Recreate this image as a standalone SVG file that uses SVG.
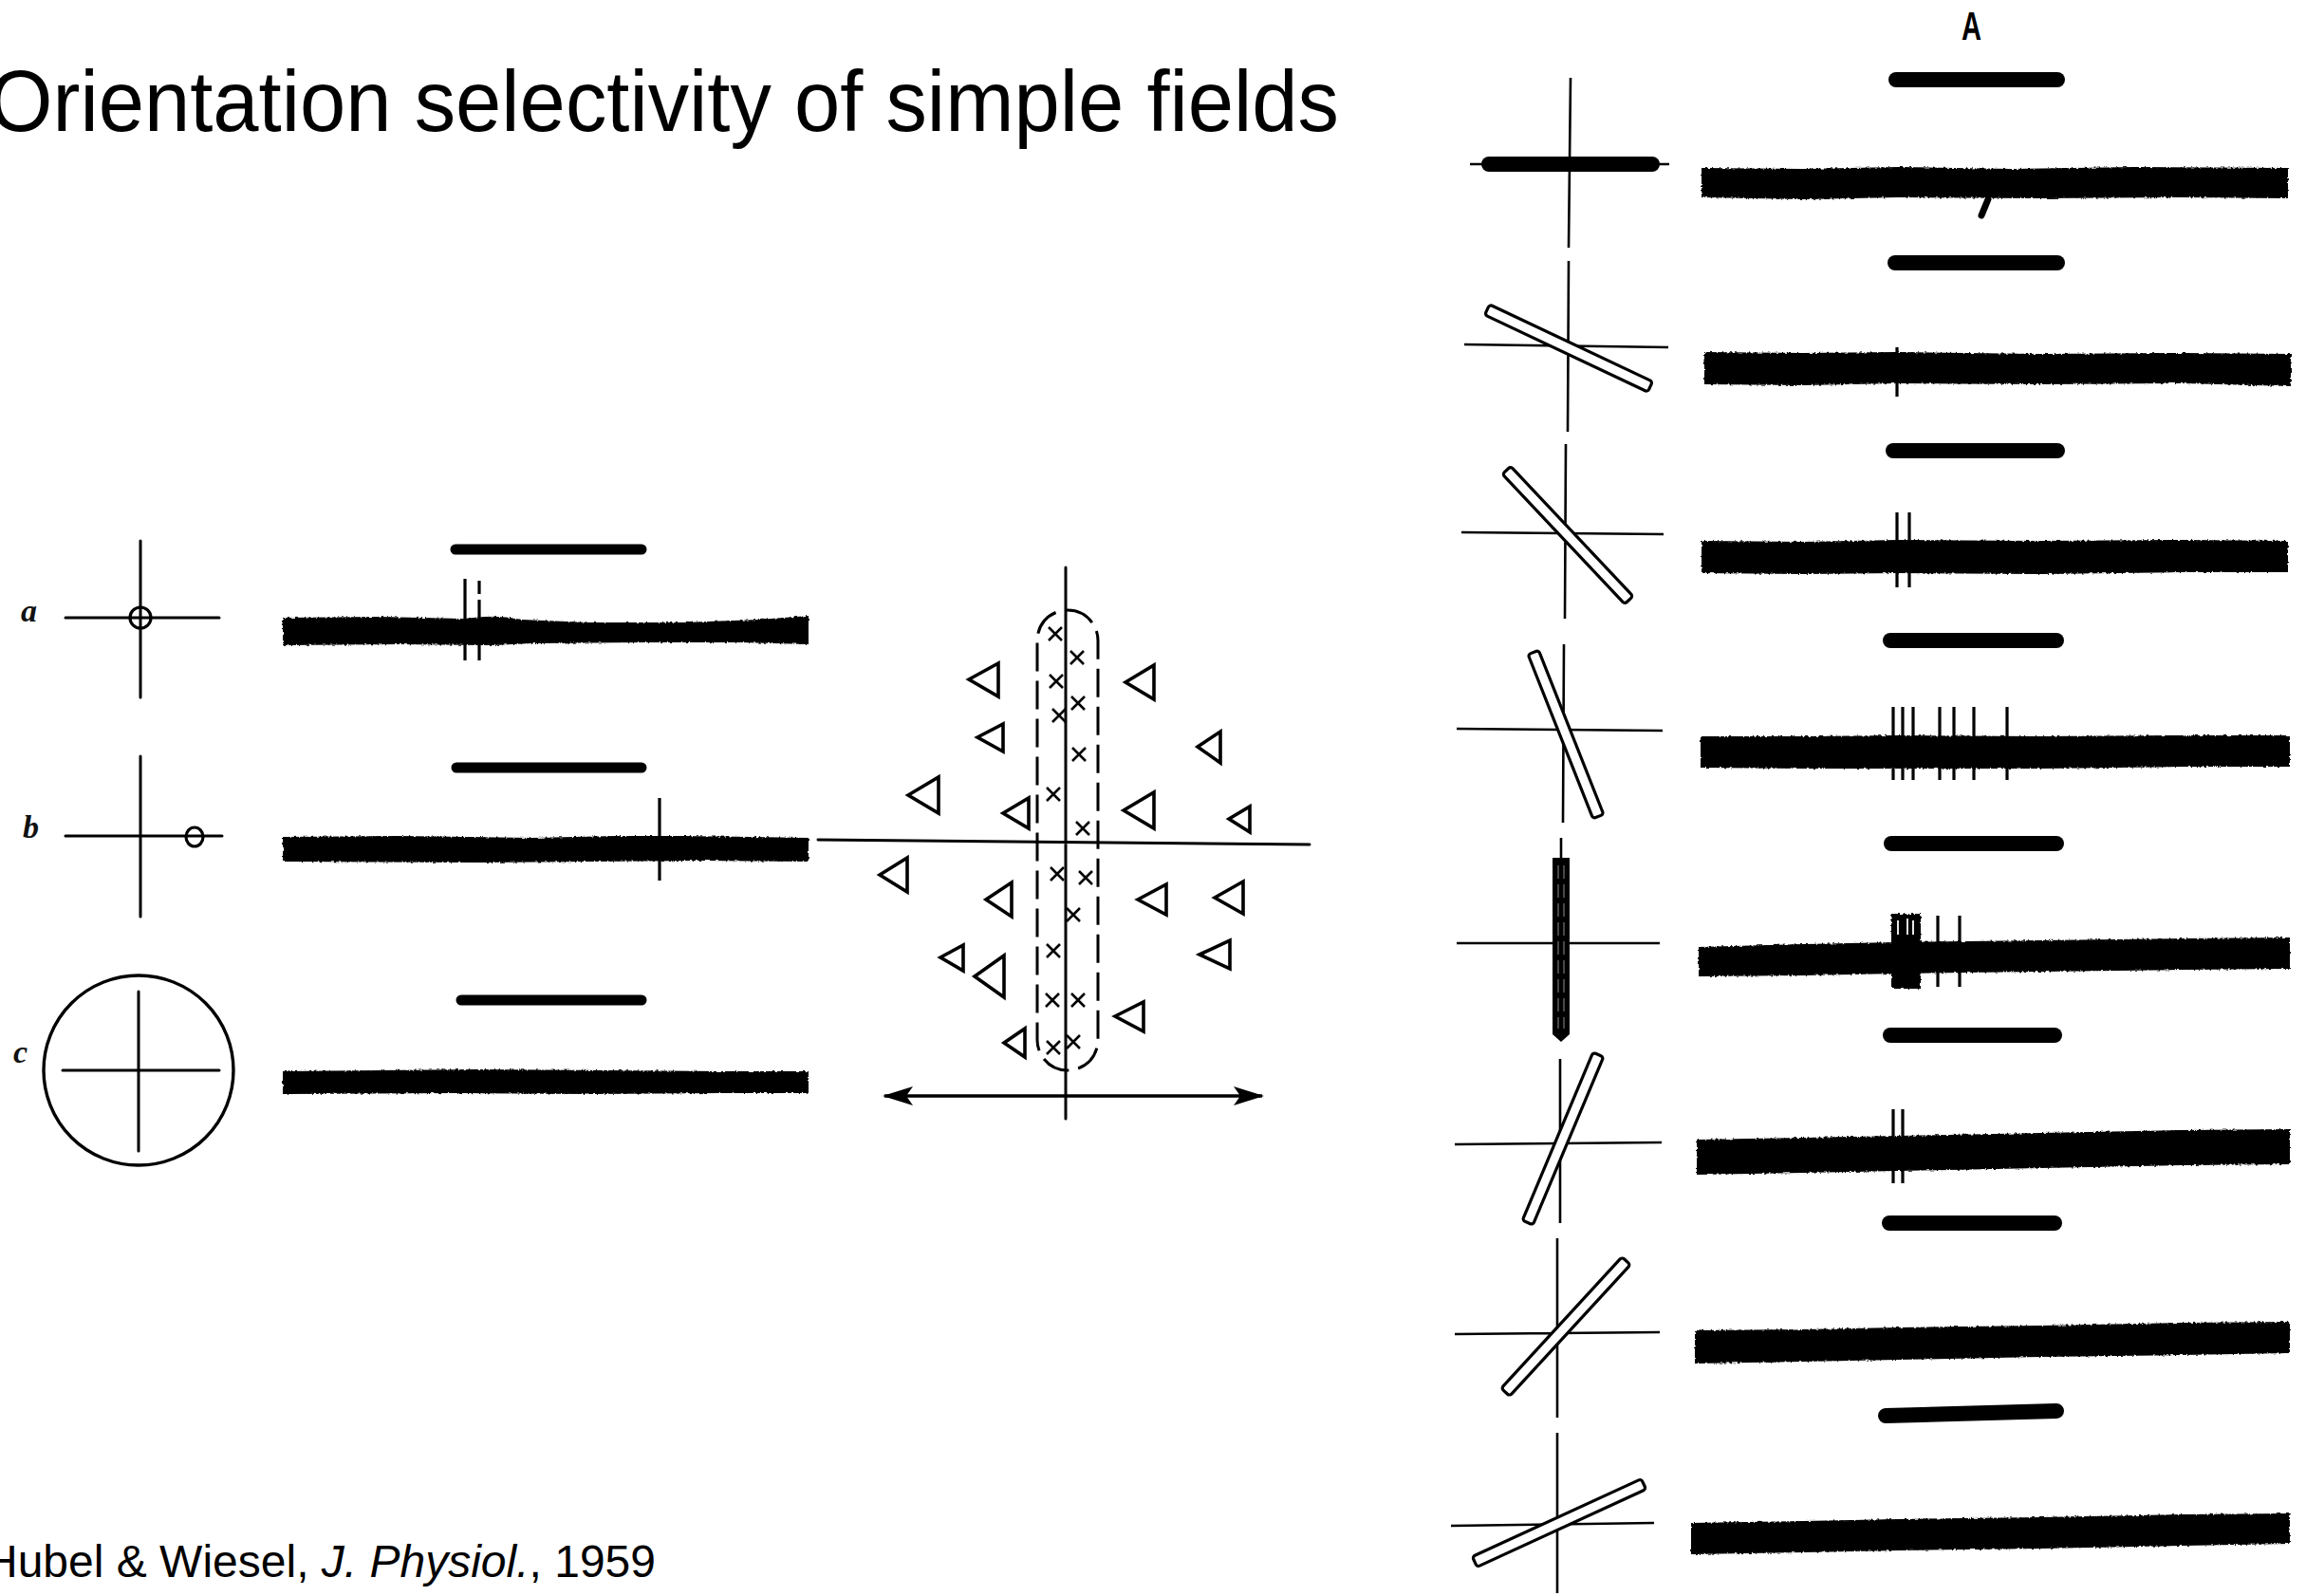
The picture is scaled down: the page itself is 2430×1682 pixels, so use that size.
<svg xmlns="http://www.w3.org/2000/svg" width="2430" height="1682" viewBox="0 0 2430 1682">
  <defs>
    <style>
      .ax { stroke: #000; stroke-width: 3; fill: none; stroke-linecap: round; }
      .ax2 { stroke: #000; stroke-width: 2.6; fill: none; }
      .stim { stroke: #000; stroke-width: 16; stroke-linecap: round; fill: none; }
      .stimL { stroke: #000; stroke-width: 11; stroke-linecap: round; fill: none; }
      .trace { fill: #000; filter: url(#rough); }
      .spk { stroke: #000; stroke-width: 3.2; fill: none; }
      .bar { fill: #fff; stroke: #000; stroke-width: 3.2; }
      .tri { fill: none; stroke: #000; stroke-width: 3.6; stroke-linejoin: miter; }
      .xm { fill: none; stroke: #000; stroke-width: 2.6; }
      .lbl { font-family: "Liberation Serif", serif; font-style: italic; font-weight: bold; font-size: 34px; fill: #111; }
      .sans { font-family: "Liberation Sans", Arial, sans-serif; fill: #000; }
    </style>
    <filter id="rough" x="-2%" y="-40%" width="104%" height="180%">
      <feTurbulence type="fractalNoise" baseFrequency="0.35" numOctaves="2" seed="4" result="n"/>
      <feDisplacementMap in="SourceGraphic" in2="n" scale="3.5" xChannelSelector="R" yChannelSelector="G"/>
    </filter>
    <marker id="ahead" viewBox="0 0 32 20" refX="30" refY="10" markerWidth="32" markerHeight="20" markerUnits="userSpaceOnUse" orient="auto-start-reverse">
      <path d="M0,0 L32,10 L0,20 L7,10 Z" fill="#000"/>
    </marker>
    <g id="xmark"><path d="M-7,-7 L7,7 M-7,7 L7,-7"/></g>
  </defs>

  <rect width="2430" height="1682" fill="#fff"/>

  <!-- heading and reference -->
  <text id="title" class="sans" x="-12" y="138" font-size="90" textLength="1423" lengthAdjust="spacingAndGlyphs">Orientation selectivity of simple fields</text>
  <text id="citation" class="sans" x="-16" y="1662" font-size="48">Hubel &amp; Wiesel, <tspan font-style="italic">J. Physiol.</tspan>, 1959</text>

  <!-- left panel: spot stimuli a, b and diffuse light c -->
  <g id="row-a">
    <text class="lbl" x="22" y="655">a</text>
    <path class="ax" d="M148,570 V735 M69,651 H231"/>
    <circle cx="148" cy="651" r="11" fill="none" stroke="#000" stroke-width="3.2"/>
    <path class="stimL" d="M480,579 H676"/>
    <path class="trace" d="M298,651 L400,650 L488,652 L510,650 Q530,649 550,653 L620,656 L720,656 L800,653 L852,649 L852,679 L780,677 L680,677 L560,678 L520,680 L420,679 L298,680 Z"/>
    <path class="spk" d="M490,610 V696 M505,612 V626 M505,632 V696"/>
  </g>

  <g id="row-b">
    <text class="lbl" x="24" y="883">b</text>
    <path class="ax" d="M148,797 V966 M69,881 H234"/>
    <ellipse cx="205" cy="882" rx="9" ry="10" fill="none" stroke="#000" stroke-width="3.2"/>
    <path class="stimL" d="M481,809 H676"/>
    <path class="trace" d="M298,882 L420,881 L560,883 L650,881 L720,881 L852,883 L852,908 L740,907 L620,908 L500,909 L298,908 Z"/>
    <path class="spk" d="M695,841 V928" stroke-width="4.5"/>
  </g>

  <g id="row-c">
    <text class="lbl" x="14" y="1120">c</text>
    <circle cx="146" cy="1128" r="100" fill="none" stroke="#000" stroke-width="3.4"/>
    <path class="ax" d="M146,1045 V1213 M66,1128 H231"/>
    <path class="stimL" d="M486,1054 H676"/>
    <path class="trace" d="M298,1129 L400,1128 L500,1127 L640,1128 L760,1129 L852,1129 L852,1152 L760,1152 L620,1153 L480,1152 L298,1153 Z"/>
  </g>

  <!-- middle panel: response map of a simple field -->
  <g id="field-map">
    <path class="ax" d="M1123,598 V1179 M862,885 L1380,890"/>
    <rect x="1093" y="643" width="64" height="485" rx="32" ry="32" fill="none" stroke="#000" stroke-width="3" stroke-dasharray="30 10"/>
    <g class="xm">
      <use href="#xmark" x="1112" y="668"/>
      <use href="#xmark" x="1135" y="693"/>
      <use href="#xmark" x="1113" y="718"/>
      <use href="#xmark" x="1136" y="741"/>
      <use href="#xmark" x="1116" y="754"/>
      <use href="#xmark" x="1137" y="795"/>
      <use href="#xmark" x="1110" y="837"/>
      <use href="#xmark" x="1141" y="873"/>
      <use href="#xmark" x="1114" y="921"/>
      <use href="#xmark" x="1144" y="925"/>
      <use href="#xmark" x="1131" y="964"/>
      <use href="#xmark" x="1110" y="1002"/>
      <use href="#xmark" x="1109" y="1054"/>
      <use href="#xmark" x="1136" y="1054"/>
      <use href="#xmark" x="1110" y="1104"/>
      <use href="#xmark" x="1131" y="1098"/>
    </g>
    <g class="tri">
      <path d="M1021,716 L1052,699 L1052,734 Z"/>
      <path d="M1030,777 L1057,763 L1057,792 Z"/>
      <path d="M957,838 L989,819 L989,857 Z"/>
      <path d="M1057,857 L1084,841 L1084,873 Z"/>
      <path d="M927,922 L956,904 L956,940 Z"/>
      <path d="M1039,948 L1066,930 L1066,966 Z"/>
      <path d="M991,1009 L1015,996 L1015,1023 Z"/>
      <path d="M1027,1029 L1058,1007 L1058,1051 Z"/>
      <path d="M1058,1099 L1080,1084 L1080,1114 Z"/>
      <path d="M1186,719 L1216,701 L1216,737 Z"/>
      <path d="M1262,787 L1286,771 L1286,804 Z"/>
      <path d="M1184,854 L1216,835 L1216,873 Z"/>
      <path d="M1295,863 L1317,850 L1317,877 Z"/>
      <path d="M1199,948 L1229,932 L1229,964 Z"/>
      <path d="M1280,946 L1310,929 L1310,963 Z"/>
      <path d="M1264,1006 L1296,991 L1296,1021 Z"/>
      <path d="M1175,1071 L1205,1056 L1205,1087 Z"/>
    </g>
  </g>
  <g id="connectors">
    <path d="M932,1155 H1330" stroke="#000" stroke-width="3.4" fill="none" marker-start="url(#ahead)" marker-end="url(#ahead)"/>
  </g>

  <!-- right panel: bar stimuli at eight orientations -->
  <text id="label-A" class="sans" x="2067" y="42" font-size="42" font-weight="bold" textLength="21" lengthAdjust="spacingAndGlyphs">A</text>

  <g id="orient-1">
    <path class="stim" d="M1998,84 H2168"/>
    <path class="ax2" d="M1655,82 L1653,261 M1549,173 H1759"/>
    <rect x="1561" y="165" width="188" height="16" rx="8" fill="#000"/>
    <path class="trace" d="M1793,177 L1900,178 L2000,176 L2120,178 L2250,176 L2411,177 L2411,209 L2300,208 L2150,209 L2000,208 L1900,210 L1793,208 Z"/>
    <path d="M2095,210 L2088,227" stroke="#000" stroke-width="7" stroke-linecap="round"/>
  </g>

  <g id="orient-2">
    <path class="stim" d="M1997,277 H2168"/>
    <path class="ax2" d="M1653,275 L1652,455 M1543,363 L1758,366"/>
    <rect class="bar" x="-95" y="-6" width="190" height="12" rx="3" transform="translate(1653,367) rotate(25.3)"/>
    <path class="trace" d="M1796,371 L1900,372 L2000,371 L2150,373 L2300,372 L2414,373 L2414,407 L2300,404 L2150,405 L2000,404 L1900,406 L1796,405 Z"/>
    <path class="spk" d="M1999,366 V418"/>
  </g>

  <g id="orient-3">
    <path class="stim" d="M1995,475 H2168"/>
    <path class="ax2" d="M1650,468 L1649,652 M1540,561 L1753,563"/>
    <rect class="bar" x="-94" y="-6" width="188" height="12" rx="3" transform="translate(1652,564) rotate(46.7)"/>
    <path class="trace" d="M1793,570 L1900,571 L2000,569 L2150,570 L2300,569 L2411,570 L2411,603 L2300,603 L2150,605 L2000,604 L1900,605 L1793,604 Z"/>
    <path class="spk" d="M1999,540 V619 M2012,540 V619"/>
  </g>

  <g id="orient-4">
    <path class="stim" d="M1992,675 H2167"/>
    <path class="ax2" d="M1648,679 L1647,867 M1535,768 L1752,770"/>
    <rect class="bar" x="-93" y="-6" width="186" height="12" rx="3" transform="translate(1650,774) rotate(68.4)"/>
    <path class="trace" d="M1792,776 L1900,776 L2000,775 L2150,776 L2300,775 L2413,775 L2413,808 L2300,808 L2150,810 L2000,810 L1900,810 L1792,809 Z"/>
    <path class="spk" d="M1995,745 V822 M2005,745 V822 M2016,745 V822 M2044,745 V822 M2059,745 V822 M2080,745 V822 M2115,745 V822"/>
  </g>

  <g id="orient-5">
    <path class="stim" d="M1993,889 H2167"/>
    <path class="ax2" d="M1645,883 V904 M1535,994 H1749"/>
    <path d="M1636,904 L1654,904 L1654,1090 L1645,1098 L1636,1090 Z" fill="#000"/>
    <path d="M1642,912 V1084 M1648,912 V1084" stroke="#777" stroke-width="1.2" stroke-dasharray="14 6"/>
    <path class="trace" d="M1790,998 L1900,995 L2000,993 L2150,991 L2300,989 L2413,988 L2413,1021 L2300,1022 L2150,1024 L2000,1026 L1900,1028 L1790,1029 Z"/>
    <path d="M1993,963 H2024 V1042 H1993 Z" fill="#000" filter="url(#rough)"/>
    <path class="spk" d="M2042,965 V1040 M2065,965 V1040"/>
    <path d="M2000,970 V985 M2010,968 V985 M2016,970 V985" stroke="#fff" stroke-width="1.8"/>
  </g>

  <g id="orient-6">
    <path class="stim" d="M1992,1091 H2165"/>
    <path class="ax2" d="M1644,1116 V1289 M1533,1206 L1751,1204"/>
    <rect class="bar" x="-96" y="-6" width="192" height="12" rx="3" transform="translate(1647,1200) rotate(112.8)"/>
    <path class="trace" d="M1788,1201 L1900,1199 L2000,1197 L2150,1194 L2300,1191 L2413,1190 L2413,1227 L2300,1228 L2150,1231 L2000,1234 L1900,1236 L1788,1238 Z"/>
    <path class="spk" d="M1995,1169 V1247 M2005,1169 V1247"/>
  </g>

  <g id="orient-7">
    <path class="stim" d="M1991,1289 H2165"/>
    <path class="ax2" d="M1641,1305 V1494 M1533,1406 L1749,1404"/>
    <rect class="bar" x="-94" y="-6" width="188" height="12" rx="3" transform="translate(1650,1398) rotate(132.6)"/>
    <path class="trace" d="M1786,1402 L1900,1401 L2000,1399 L2150,1397 L2300,1394 L2413,1393 L2413,1426 L2300,1428 L2150,1430 L2000,1433 L1900,1435 L1786,1437 Z"/>
  </g>

  <g id="orient-8">
    <path class="stim" d="M1987,1492 L2167,1487" stroke-width="13"/>
    <path class="ax2" d="M1641,1510 V1679 M1529,1608 L1743,1605"/>
    <rect class="bar" x="-98" y="-6" width="196" height="12" rx="3" transform="translate(1643,1605) rotate(155.3)"/>
    <path class="trace" d="M1782,1605 L1900,1603 L2000,1601 L2150,1599 L2300,1596 L2413,1595 L2413,1627 L2300,1629 L2150,1632 L2000,1634 L1900,1636 L1782,1638 Z"/>
  </g>
</svg>
